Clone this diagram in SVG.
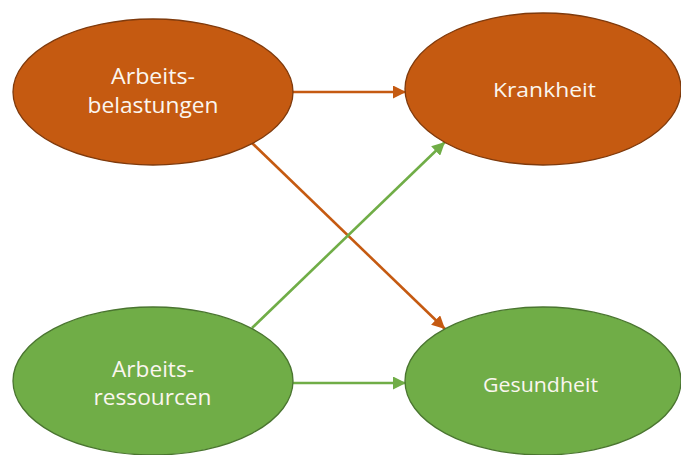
<svg xmlns="http://www.w3.org/2000/svg" width="681" height="455" viewBox="0 0 681 455">
<style>
.orange{fill:#C55A11;stroke:#7F3A0C;stroke-width:1.3}
.green{fill:#70AD47;stroke:#4A7530;stroke-width:1.3}
.lbl{font-family:"Open Sans","Noto Sans",sans-serif;fill:#FBF6EF;text-anchor:middle}
.big{font-size:21.5px}
.sm{font-size:20px}
.co{stroke:#C55A11;stroke-width:2.6;fill:none}
.cg{stroke:#70AD47;stroke-width:2.6;fill:none}
</style>
<defs>
<marker id="ao" viewBox="0 0 10 10" refX="10" refY="5" markerWidth="5" markerHeight="5" orient="auto" markerUnits="strokeWidth">
<path d="M0,0 L10,5 L0,10 z" fill="#C55A11"/>
</marker>
<marker id="ag" viewBox="0 0 10 10" refX="10" refY="5" markerWidth="5" markerHeight="5" orient="auto" markerUnits="strokeWidth">
<path d="M0,0 L10,5 L0,10 z" fill="#70AD47"/>
</marker>
</defs>
<rect width="681" height="455" fill="#FFFFFF"/>
<g id="connectors">
<line class="co" x1="293" y1="92" x2="406" y2="92" marker-end="url(#ao)"/>
<line class="cg" x1="293" y1="383" x2="406" y2="383" marker-end="url(#ag)"/>
<line class="co" x1="252" y1="143" x2="445" y2="329" marker-end="url(#ao)"/>
<line class="cg" x1="252" y1="328" x2="445" y2="142" marker-end="url(#ag)"/>
</g>
<g id="belastungen">
<ellipse class="orange" cx="153" cy="92" rx="140" ry="73"/>
<text class="lbl big" x="153" y="84" textLength="84" lengthAdjust="spacingAndGlyphs">Arbeits-</text>
<text class="lbl big" x="153" y="113" textLength="131" lengthAdjust="spacingAndGlyphs">belastungen</text>
</g>
<g id="krankheit">
<ellipse class="orange" cx="543" cy="89" rx="138" ry="76"/>
<text class="lbl sm" x="544.5" y="97" textLength="103" lengthAdjust="spacingAndGlyphs">Krankheit</text>
</g>
<g id="ressourcen">
<ellipse class="green" cx="153" cy="381" rx="140" ry="74"/>
<text class="lbl big" x="153" y="377" textLength="82" lengthAdjust="spacingAndGlyphs">Arbeits-</text>
<text class="lbl big" x="152.5" y="405" textLength="118" lengthAdjust="spacingAndGlyphs">ressourcen</text>
</g>
<g id="gesundheit">
<ellipse class="green" cx="543" cy="381" rx="138" ry="74"/>
<text class="lbl sm" x="540.5" y="392" textLength="115" lengthAdjust="spacingAndGlyphs">Gesundheit</text>
</g>
</svg>
